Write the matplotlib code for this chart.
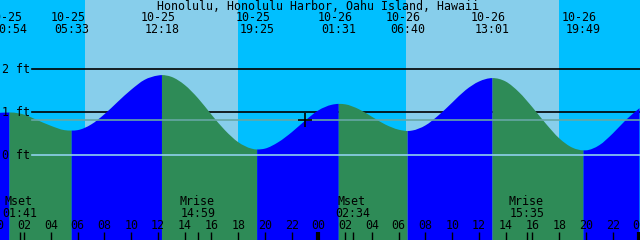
import matplotlib
matplotlib.use('Agg')
import matplotlib.pyplot as plt
from matplotlib.path import Path
from matplotlib.patches import PathPatch
import numpy as np

title = 'Honolulu, Honolulu Harbor, Oahu Island, Hawaii'

hours = list(range(49))
level = [0.99, 1.00, 0.95, 0.82, 0.69, 0.59,
         0.59, 0.72, 0.96, 1.25, 1.53, 1.76, 1.86,
         1.83, 1.64, 1.33, 0.95, 0.59, 0.31, 0.16,
         0.16, 0.31, 0.54, 0.81, 1.05, 1.18,
         1.19, 1.08, 0.90, 0.72, 0.60,
         0.58, 0.70, 0.94, 1.23, 1.52, 1.72, 1.80,
         1.72, 1.47, 1.12, 0.74, 0.40, 0.18,
         0.12, 0.24, 0.51, 0.83, 1.10]

# highs and lows
hl_date = ['10-25', '10-25', '10-25', '10-25', '10-26', '10-26', '10-26', '10-26']
hl_time = ['00:54', '05:33', '12:18', '19:25', '01:31', '06:40', '13:01', '19:49']
hl_level = [1.00, 0.58, 1.87, 0.14, 1.20, 0.57, 1.80, 0.12]

# moon rise / set
moon_event = ['Mset', 'Mrise', 'Mset', 'Mrise']
moon_date = ['10-25', '10-25', '10-26', '10-26']
moon_time = ['01:41', '14:59', '02:34', '15:35']

# daylight
sun_date = ['10-25', '10-26']
sunrise = ['06:32', '06:32']
sunset = ['18:00', '18:00']

mean_level = 0.82
now_date, now_time, now_level = '10-25', '23:00', 0.82
depth_marks = [2, 1, 0]

night_col = '#00bfff'
day_col = '#87ceeb'
flood_col = '#0000ff'
ebb_col = '#2e8b57'


def to_hours(date, hhmm):
    day = int(date[3:]) - 25
    h, m = hhmm.split(':')
    return day * 24 + int(h) + int(m) / 60.0


PX_H = 13.375  # pixels per hour
hl_t = [to_hours(d, t) for d, t in zip(hl_date, hl_time)]
moon_t = [to_hours(d, t) for d, t in zip(moon_date, moon_time)]

# merge hourly readings with the extremes
t_all = np.array(hours + hl_t, dtype=float)
l_all = np.array(level + hl_level, dtype=float)
order = np.argsort(t_all)
t_all, l_all = t_all[order], l_all[order]
is_ext = np.isin(t_all, hl_t)

# slopes for a smooth curve through the readings, flat at highs/lows
slope = np.gradient(l_all, t_all)
slope[is_ext] = 0.0


def water_patch(i0, i1, color):
    # filled area under the curve from point i0 to point i1
    verts = [(t_all[i0], -5), (t_all[i0], l_all[i0])]
    codes = [Path.MOVETO, Path.LINETO]
    for i in range(i0, i1):
        dt = (t_all[i + 1] - t_all[i]) / 3.0
        verts += [(t_all[i] + dt, l_all[i] + dt * slope[i]),
                  (t_all[i + 1] - dt, l_all[i + 1] - dt * slope[i + 1]),
                  (t_all[i + 1], l_all[i + 1])]
        codes += [Path.CURVE4] * 3
    verts += [(t_all[i1], -5), (t_all[i0], -5)]
    codes += [Path.LINETO, Path.CLOSEPOLY]
    return PathPatch(Path(verts, codes), facecolor=color, lw=0, zorder=2)


fig = plt.figure(figsize=(6.4, 2.4), dpi=100)
ax = fig.add_axes([0, 0, 1, 1])
ax.set_xlim(0.19, 48.04)
ax.set_ylim(-1.965, 3.616)
ax.axis('off')
fig.patch.set_facecolor(night_col)

# sky
for d, r, s in zip(sun_date, sunrise, sunset):
    ax.axvspan(to_hours(d, r), to_hours(d, s), color=day_col, lw=0, zorder=0)

# depth lines behind the water
for m in depth_marks[:2]:
    ax.axhline(m, xmin=32 / 640, color='black', lw=1.2, zorder=1)

# water, blue while rising, green while falling
idx = [0] + list(np.where(is_ext)[0]) + [len(t_all) - 1]
for a, b in zip(idx[:-1], idx[1:]):
    rising = l_all[b] > l_all[a]
    ax.add_patch(water_patch(a, b, flood_col if rising else ebb_col))

ax.axhline(0, xmin=32 / 640, color='#8fd0ec', lw=1.2, zorder=3)
ax.axhline(mean_level, xmin=32 / 640, color='#66a7a5', lw=1.2, zorder=3)

ax.plot([to_hours(now_date, now_time)], [now_level], marker='+',
        color='black', ms=10, mew=1.2, zorder=5)

fkw = dict(family='DejaVu Sans Mono', fontsize=8.4, color='black', zorder=6)
tr = ax.get_xaxis_transform()

for m in depth_marks:
    ax.text(2 / 640, m, '%d ft' % m, transform=ax.get_yaxis_transform(),
            ha='left', va='center', **fkw)

ax.text(0.4975, 1 - 6 / 240, title, transform=ax.transAxes,
        ha='center', va='center', **fkw)

for t, d, s in zip(hl_t, hl_date, hl_time):
    ax.text(t - 4 / PX_H, 1 - 17.5 / 240, d, transform=tr,
            ha='center', va='center', **fkw)
    ax.text(t, 1 - 29.7 / 240, s, transform=tr,
            ha='center', va='center', **fkw)

for t, e, s in zip(moon_t, moon_event, moon_time):
    ax.text(t - 1 / PX_H, 1 - 201.7 / 240, e, transform=tr,
            ha='center', va='center', **fkw)
    ax.text(t, 1 - 213.3 / 240, s, transform=tr,
            ha='center', va='center', **fkw)

# hour labels and ticks along the bottom
for h in range(0, 49, 2):
    ax.text(h, 1 - 225.5 / 240, '%02d' % (h % 24), transform=tr,
            ha='center', va='center', **fkw)
    ax.vlines(h, 0, 8.5 / 240, transform=tr, color='black',
              lw=3 if h % 24 == 0 else 1, zorder=6)
ax.vlines(moon_t, 0, 8.5 / 240, transform=tr, color='black', lw=1, zorder=6)

fig.savefig('out.png', dpi=100, facecolor=night_col)
